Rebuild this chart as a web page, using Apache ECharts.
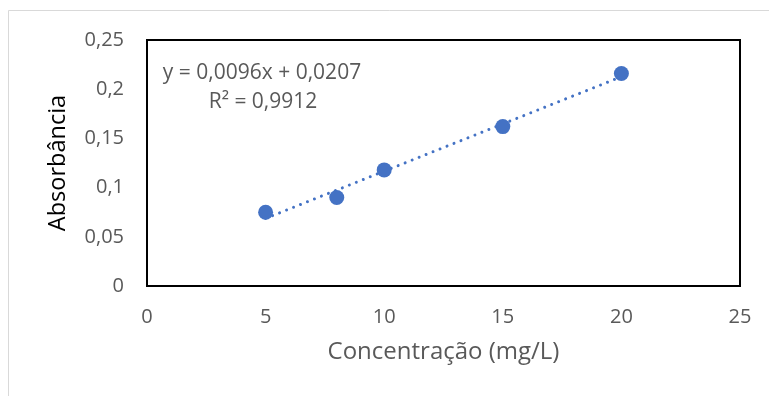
<!DOCTYPE html>
<html>
<head>
<meta charset="utf-8">
<script src="https://cdn.jsdelivr.net/npm/echarts@6/dist/echarts.min.js"></script>
<style>
  html, body { margin: 0; padding: 0; background: #fff; }
  #chart { width: 769px; height: 396px; }
</style>
</head>
<body>
<div id="chart"></div>
<script>
// Calibration standards: concentration (mg/L) and measured absorbance
const concentrations = [5, 8, 10, 15, 20];
const absorbances = [0.075, 0.090, 0.118, 0.162, 0.216];

// Linear fit reported on the chart
const fitSlope = 0.0096;
const fitIntercept = 0.0207;
const fitR2 = 0.9912;

const xTicks = { min: 0, max: 25, interval: 5 };
const yTicks = { min: 0, max: 0.25, interval: 0.05 };

const FONT = 'Open Sans';
const GREY = '#595959';
const BLUE = '#4472C4';

const points = concentrations.map((c, i) => [c, absorbances[i]]);
const xFirst = concentrations[0];
const xLast = concentrations[concentrations.length - 1];
const trend = [
  [xFirst, fitSlope * xFirst + fitIntercept],
  [xLast, fitSlope * xLast + fitIntercept]
];

const fmt = (v, d) => v.toFixed(d).replace('.', ',');
const tickFmt = v => String(parseFloat(v.toFixed(4))).replace('.', ',');

const chart = echarts.init(document.getElementById('chart'), null, { renderer: 'canvas' });
chart.setOption({
  animation: false,
  backgroundColor: '#fff',
  textStyle: { fontFamily: FONT },
  grid: {
    left: 147, right: 29, top: 40, bottom: 110,
    show: true, borderColor: '#000', borderWidth: 2, backgroundColor: 'transparent'
  },
  graphic: [
    {
      type: 'rect', silent: true, z: -10,
      shape: { x: 8.5, y: 10.5, width: 800, height: 400 },
      style: { fill: 'none', stroke: '#d9d9d9', lineWidth: 1 }
    },
    {
      type: 'text', x: 262, y: 73,
      style: {
        text: 'y = ' + fmt(fitSlope, 4) + 'x + ' + fmt(fitIntercept, 4),
        font: '21px "' + FONT + '"', fill: GREY,
        textAlign: 'center', textVerticalAlign: 'middle'
      }
    },
    {
      type: 'text', x: 263, y: 102,
      style: {
        text: 'R² = ' + fmt(fitR2, 4),
        font: '21px "' + FONT + '"', fill: GREY,
        textAlign: 'center', textVerticalAlign: 'middle'
      }
    }
  ],
  xAxis: {
    type: 'value',
    min: xTicks.min, max: xTicks.max, interval: xTicks.interval,
    name: 'Concentração (mg/L)',
    nameLocation: 'middle', nameGap: 54,
    nameTextStyle: { fontSize: 24, color: GREY, fontFamily: FONT },
    axisLine: { show: false },
    axisTick: { show: false },
    splitLine: { show: false },
    axisLabel: { fontSize: 20, color: GREY, margin: 21, formatter: tickFmt }
  },
  yAxis: {
    type: 'value',
    min: yTicks.min, max: yTicks.max, interval: yTicks.interval,
    name: 'Absorbância',
    nameLocation: 'middle', nameGap: 77,
    nameTextStyle: { fontSize: 23.5, color: '#000', fontFamily: FONT },
    axisLine: { show: false },
    axisTick: { show: false },
    splitLine: { show: false },
    axisLabel: { fontSize: 20, color: GREY, margin: 23, formatter: tickFmt }
  },
  series: [
    {
      type: 'line',
      data: trend,
      symbol: 'none',
      lineStyle: { color: BLUE, width: 3, type: [0.01, 7.5], cap: 'round' },
      z: 2,
      silent: true
    },
    {
      type: 'scatter',
      data: points,
      symbol: 'circle',
      symbolSize: 15,
      itemStyle: { color: BLUE, opacity: 1 },
      z: 3
    }
  ]
});
</script>
</body>
</html>
